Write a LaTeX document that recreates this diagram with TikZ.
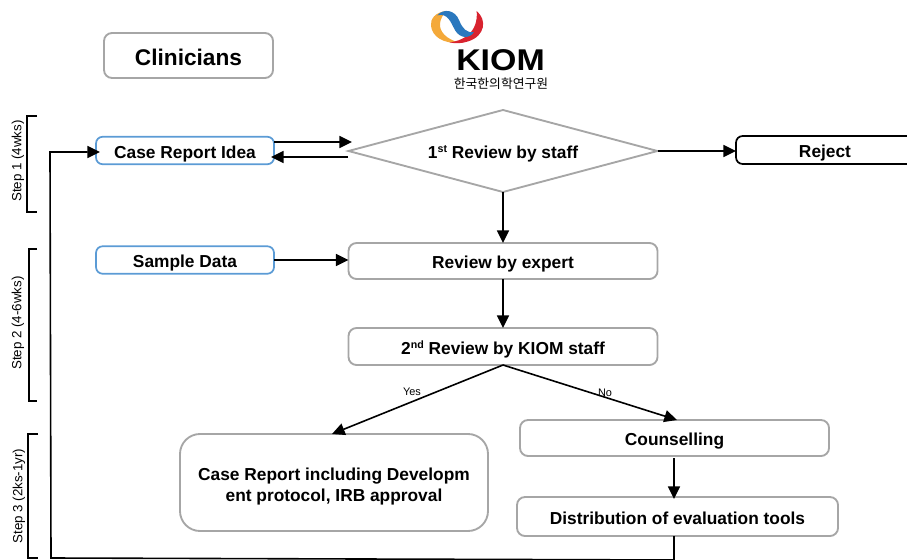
\documentclass[tikz,border=0pt]{standalone}
\usepackage{fontspec}
\usepackage{graphicx}
\setmainfont{Liberation Sans}
\newfontfamily\krfont{Noto Sans CJK KR}
\usetikzlibrary{arrows.meta,shapes.geometric}
\def\u{0.75pt}
\newcommand\supr[1]{\raisebox{4.4pt}{\fontsize{8}{8}\selectfont #1}}
\definecolor{boxgray}{HTML}{A6A6A6}
\definecolor{boxblue}{HTML}{5B9BD5}
\definecolor{logoorange}{HTML}{F4A93A}
\definecolor{logoblue}{HTML}{2A78BE}
\definecolor{logored}{HTML}{D8232F}
\tikzset{
  flowbox/.style={draw=boxgray,line width=1.4pt,rounded corners=6pt,inner sep=0pt,outer sep=0pt,align=center,
    font=\fontsize{13}{15.75}\selectfont\bfseries},
  oneline/.style={text height=11.5pt,text depth=0pt},
  bluebox/.style={flowbox,oneline,draw=boxblue,line width=1.3pt,rounded corners=5pt},
  blackbox/.style={flowbox,oneline,draw=black,line width=1.3pt,rounded corners=5pt},
  conn/.style={line width=1.2pt,draw=black,-{Triangle[length=9.5pt,width=9pt]}},
  bracketline/.style={line width=1pt,draw=black},
  steplabel/.style={rotate=90,font=\fontsize{10}{12}\selectfont,inner sep=0pt},
  edgelabel/.style={font=\fontsize{8.2}{10}\selectfont,inner sep=0pt}
}
\begin{document}
\begin{tikzpicture}[x=0.75pt,y=-0.75pt]
\useasboundingbox (0,0) rectangle (907,560);
\clip (0,0) rectangle (907,560);
% logo
\begin{scope}[shift={(400,0)},x=0.25pt,y=-0.25pt]
\fill[logoorange] (140,33) .. controls (105,36) and (90,58) .. (93,78) .. controls (97,110) and (130,132) .. (178,128) .. controls (140,118) and (117,95) .. (120,70) .. controls (122,55) and (130,42) .. (140,33) -- cycle;
\fill[logored] (230,33) .. controls (262,60) and (255,108) .. (205,124) .. controls (185,131) and (165,131) .. (148,127) .. controls (185,124) and (236,100) .. (230,33) -- cycle;
\fill[logoblue] (112,46) .. controls (130,25) and (165,28) .. (178,62) .. controls (187,85) and (200,100) .. (222,96) .. controls (208,118) and (180,115) .. (166,92) .. controls (152,68) and (145,38) .. (112,46) -- cycle;
\end{scope}
\node[inner sep=0pt] (kiom) at (500.5,60.5) {\scalebox{1.13}[1]{\fontsize{22.5}{24}\selectfont\bfseries KIOM}};
\node[inner sep=0pt] (kiomkr) at (501,83.5) {\krfont\fontsize{9.6}{10}\selectfont 한국한의학연구원};
% nodes
\node[flowbox,minimum width=169*\u,minimum height=45*\u,font=\fontsize{17}{20}\selectfont\bfseries,text height=14.4pt,text depth=0pt] (clin) at (188.5,55.5) {Clinicians};
\node[bluebox,minimum width=178*\u,minimum height=27.5*\u] (idea) at (185,150.5) {Case Report Idea};
\node[bluebox,minimum width=178*\u,minimum height=27.5*\u] (sample) at (185,260) {Sample Data};
\node[draw=boxgray,line width=1.4pt,diamond,aspect=3.77,minimum width=309*\u,minimum height=82*\u,inner sep=0pt,outer sep=0pt,oneline,
  font=\fontsize{13}{15.75}\selectfont\bfseries] (rev1) at (503,151) {1\supr{st} Review by staff};
\node[blackbox,minimum width=178*\u,minimum height=28*\u] (reject) at (825,150) {Reject};
\node[flowbox,oneline,minimum width=309*\u,minimum height=36*\u] (expert) at (503,261) {Review by expert};
\node[flowbox,oneline,minimum width=309*\u,minimum height=37*\u] (rev2) at (503,346.5) {2\supr{nd} Review by KIOM staff};
\node[flowbox,rounded corners=15pt,minimum width=308*\u,minimum height=97*\u] (report) at (334,482.5) {\rule{0pt}{15.3pt}Case Report including Developm\\ent protocol, IRB approval};
\node[flowbox,oneline,minimum width=309*\u,minimum height=36*\u] (couns) at (674.5,438) {Counselling};
\node[flowbox,oneline,minimum width=321*\u,minimum height=39*\u] (dist) at (677.5,516.5) {Distribution of evaluation tools};
% connector ends
\coordinate (ideaOutS) at (274,142);
\coordinate (ideaOutE) at (352,142);
\coordinate (ideaInS) at (348,157);
\coordinate (ideaInE) at (271,157);
\coordinate (yesEnd) at (332,434);
\coordinate (noEnd) at (677,420);
\coordinate (counsS) at (674,458);
\coordinate (distT) at (674,499);
\coordinate (distB) at (674,536);
\coordinate (loopA) at (674,560);
\coordinate (loopB) at (51,558);
\coordinate (loopC) at (50,152);
\coordinate (ideaW) at (100,152);
% connectors
\draw[conn] (ideaOutS) -- (ideaOutE);
\draw[conn] (ideaInS) -- (ideaInE);
\draw[conn] (rev1.east) -- (rev1.east -| reject.west);
\draw[conn] (rev1.south) -- (expert.north);
\draw[conn] (sample.east) -- (sample.east -| expert.west);
\draw[conn] (expert.south) -- (rev2.north);
\draw[conn] (rev2.south) -- (yesEnd);
\draw[conn] (rev2.south) -- (noEnd);
\draw[conn] (counsS) -- (distT);
\draw[conn,line join=miter] (distB) -- (loopA) -- (loopB) -- (loopC) -- (ideaW);
% labels
\node[edgelabel] (yes) at (412,392) {Yes};
\node[edgelabel] (no) at (605,393) {No};
% step brackets
\draw[bracketline] (37,116) -- (27,116) -- (27,212) -- (37,212);
\draw[bracketline] (37,249) -- (29,249) -- (29,401) -- (37,401);
\draw[bracketline] (38,434) -- (28,434) -- (28,558) -- (38,558);
\node[steplabel] (s1) at (18,161) {Step 1 (4wks)};
\node[steplabel] (s2) at (18,323) {Step 2 (4-6wks)};
\node[steplabel] (s3) at (19,496) {Step 3 (2ks-1yr)};
\end{tikzpicture}
\end{document}
